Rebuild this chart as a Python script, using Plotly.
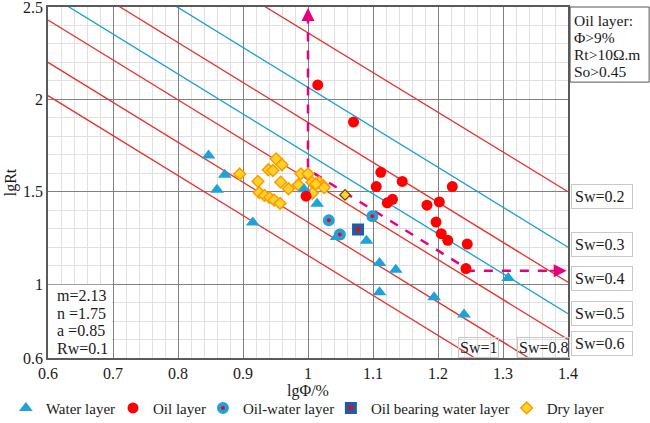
import plotly.graph_objects as go

# Sw reference lines: lgRt read at lgPhi = 0.6 and 1.4 (axes clip them)
SW = [0.2, 0.3, 0.4, 0.5, 0.6, 0.8, 1]
SW_X = [0.6, 1.4]
SW_Y_LEFT = [3.22, 2.93, 2.74, 2.57, 2.43, 2.20, 2.02]
SW_Y_RIGHT = [1.50, 1.20, 1.01, 0.84, 0.70, 0.47, 0.29]

# water layer
WATER_X = [0.847, 0.872, 0.860, 0.915, 0.994, 1.014, 1.044, 1.090, 1.110, 1.135, 1.110, 1.194, 1.240, 1.308]
WATER_Y = [1.696, 1.592, 1.511, 1.334, 1.513, 1.435, 1.255, 1.235, 1.114, 1.078, 0.956, 0.929, 0.835, 1.033]

# oil layer
OIL_X = [1.015, 1.070, 1.112, 1.145, 1.105, 1.222, 0.997, 1.130, 1.122, 1.183, 1.202, 1.197, 1.205, 1.215, 1.245, 1.243]
OIL_Y = [2.078, 1.877, 1.605, 1.556, 1.528, 1.528, 1.476, 1.459, 1.440, 1.427, 1.445, 1.336, 1.273, 1.237, 1.217, 1.084]

# oil-water layer
OW_X = [1.032, 1.049, 1.099]
OW_Y = [1.345, 1.268, 1.367]

# oil bearing water layer
OBW_X = [1.077]
OBW_Y = [1.295]

# dry layer
DRY_X = [0.895, 0.951, 0.960, 0.939, 0.946, 0.923, 0.958, 0.970, 0.985, 0.989, 1.000,
         1.006, 1.017, 1.023, 1.012, 1.007, 0.925, 0.933, 0.941, 0.948, 0.957, 1.025]
DRY_Y = [1.596, 1.678, 1.646, 1.619, 1.615, 1.556, 1.552, 1.516, 1.538, 1.597, 1.597,
         1.552, 1.552, 1.534, 1.542, 1.493, 1.495, 1.480, 1.468, 1.455, 1.437, 1.522]
DRY2_X = [1.057]
DRY2_Y = [1.483]

# oil layer cut-off path (dashed arrows)
PATH_X = [1.0, 1.0, 1.25, 1.385]
PATH_Y = [2.46, 1.62, 1.072, 1.072]

PARAMS = ["m=2.13", "n =1.75", "a =0.85", "Rw=0.1"]
OIL_RULE = ["Oil layer:", "Φ&gt;9%", "Rt&gt;10Ω.m", "So&gt;0.45"]

RED = "#e8322a"
CYAN = "#14a0d6"
PINK = "#e6007e"
FONT = "Liberation Serif"

fig = go.Figure()

for i, sw in enumerate(SW):
    fig.add_trace(go.Scatter(x=SW_X, y=[SW_Y_LEFT[i], SW_Y_RIGHT[i]], mode="lines",
                             line=dict(color=CYAN if sw in (0.3, 0.5) else RED, width=1.3),
                             showlegend=False, hoverinfo="skip"))

fig.add_trace(go.Scatter(x=PATH_X, y=PATH_Y, mode="lines",
                         line=dict(color=PINK, width=2.5, dash="dash"),
                         showlegend=False, hoverinfo="skip"))

fig.add_trace(go.Scatter(x=DRY_X, y=DRY_Y, mode="markers", name="Dry layer", legend="legend5",
                         marker=dict(symbol="diamond", size=9, color="#ffd42a",
                                     line=dict(color="#ff9a00", width=1.5))))
fig.add_trace(go.Scatter(x=WATER_X, y=WATER_Y, mode="markers", name="Water layer", legend="legend",
                         marker=dict(symbol="triangle-up", size=12, color="#1ea2dc")))
fig.add_trace(go.Scatter(x=OIL_X, y=OIL_Y, mode="markers", name="Oil layer", legend="legend2",
                         marker=dict(symbol="circle", size=11, color="#ff0000")))
fig.add_trace(go.Scatter(x=OW_X, y=OW_Y, mode="markers", name="Oil-water layer", legend="legend3",
                         marker=dict(symbol="circle", size=8, color="#ff0000",
                                     line=dict(color="#1ea2dc", width=4))))
fig.add_trace(go.Scatter(x=OBW_X, y=OBW_Y, mode="markers", name="Oil bearing water layer", legend="legend4",
                         marker=dict(symbol="square", size=8, color="#ff0000",
                                     line=dict(color="#1f5ca8", width=4))))
fig.add_trace(go.Scatter(x=DRY2_X, y=DRY2_Y, mode="markers", showlegend=False,
                         marker=dict(symbol="diamond", size=8, color="#ffd42a",
                                     line=dict(color="#6b3a00", width=1.2))))

# arrow heads
fig.add_annotation(x=1.0, y=2.495, ax=1.0, ay=2.44, xref="x", yref="y", axref="x", ayref="y",
                   text="", showarrow=True, arrowhead=2, arrowsize=1.3, arrowwidth=2, arrowcolor=PINK)
fig.add_annotation(x=1.398, y=1.072, ax=1.37, ay=1.072, xref="x", yref="y", axref="x", ayref="y",
                   text="", showarrow=True, arrowhead=2, arrowsize=1.3, arrowwidth=2, arrowcolor=PINK)

# Sw labels on the right
label_y = [1.474, 1.215, 1.032, 0.843, 0.676]
for sw, ly in zip(SW[:5], label_y):
    fig.add_annotation(x=1.006, y=ly, xref="paper", yref="y", xanchor="left", yanchor="middle",
                       text=f"Sw={sw}", showarrow=False, font=dict(family=FONT, size=16),
                       width=54, align="left",
                       bordercolor="#c8c8c8", borderwidth=1, borderpad=3, bgcolor="white")
# Sw=1 / Sw=0.8 inside plot
for sw, lx in zip(SW[6:4:-1], [1.262, 1.362]):
    fig.add_annotation(x=lx, y=0.6, xref="x", yref="y", xanchor="center", yanchor="bottom",
                       text=f"Sw={sw}", showarrow=False, font=dict(family=FONT, size=16),
                       bordercolor="#c8c8c8", borderwidth=1, borderpad=1)

# parameter box
fig.add_shape(type="rect", xref="x", yref="y", x0=0.6, x1=0.698, y0=0.6, y1=0.997,
              fillcolor="white", line=dict(width=0), layer="between")
for k, t in enumerate(PARAMS):
    fig.add_annotation(x=0.61, y=0.995, xref="x", yref="y", xanchor="left", yanchor="top",
                       yshift=-k * 17.5, text=t, showarrow=False, font=dict(family=FONT, size=16))

# oil layer criteria box
fig.add_shape(type="rect", xref="paper", yref="paper", x0=1.004, x1=1.156, y0=0.786, y1=1.0,
              line=dict(color="#555555", width=1))
for k, t in enumerate(OIL_RULE):
    fig.add_annotation(x=1.008, y=1.0, xref="paper", yref="paper", xanchor="left", yanchor="top",
                       yshift=-3 - k * 17, text=t, showarrow=False, font=dict(family=FONT, size=15.5))

legend_x = [-0.081, 0.125, 0.298, 0.544, 0.882]
leg = dict(orientation="h", yanchor="middle", y=-0.143, xanchor="left",
           bgcolor="rgba(0,0,0,0)", font=dict(family=FONT, size=15, color="#1a1a1a"), itemwidth=30)

fig.update_layout(
    width=650, height=423,
    margin=dict(l=48, r=82, t=7, b=65, autoexpand=False),
    plot_bgcolor="white", paper_bgcolor="white",
    font=dict(family=FONT, size=16, color="#1a1a1a"),
    legend=dict(leg, x=legend_x[0]),
    legend2=dict(leg, x=legend_x[1]),
    legend3=dict(leg, x=legend_x[2]),
    legend4=dict(leg, x=legend_x[3]),
    legend5=dict(leg, x=legend_x[4]),
    xaxis=dict(range=[0.6, 1.4], tick0=0.6, dtick=0.1, ticks="", showline=True, linecolor="#5a5a5a",
               linewidth=1.5, mirror=True, zeroline=False, gridcolor="#808080", gridwidth=1.2,
               automargin=False, ticklabeloverflow="allow",
               minor=dict(tick0=0.6, dtick=0.02, showgrid=True, gridcolor="#e0e0e0", gridwidth=1),
               title=dict(text="lgΦ/%", standoff=4, font=dict(family=FONT, size=16))),
    yaxis=dict(range=[0.6, 2.5], tickmode="array", tickvals=[0.6, 1, 1.5, 2, 2.5],
               ticktext=["0.6", "1", "1.5", "2", "2.5"], ticks="", showline=True, linecolor="#5a5a5a",
               linewidth=1.5, mirror=True, zeroline=False, gridcolor="#808080", gridwidth=1.2,
               automargin=False, ticklabeloverflow="allow",
               minor=dict(tickmode="linear", tick0=0.6, dtick=0.1, showgrid=True,
                          gridcolor="#e0e0e0", gridwidth=1),
               title=dict(text="lgRt", standoff=2, font=dict(family=FONT, size=16))),
)

# drop the browser's default page margin so the 650x423 figure fills the window
fig.write_html("out.html", config={"displayModeBar": False},
               post_script="document.body.style.margin='0';")
